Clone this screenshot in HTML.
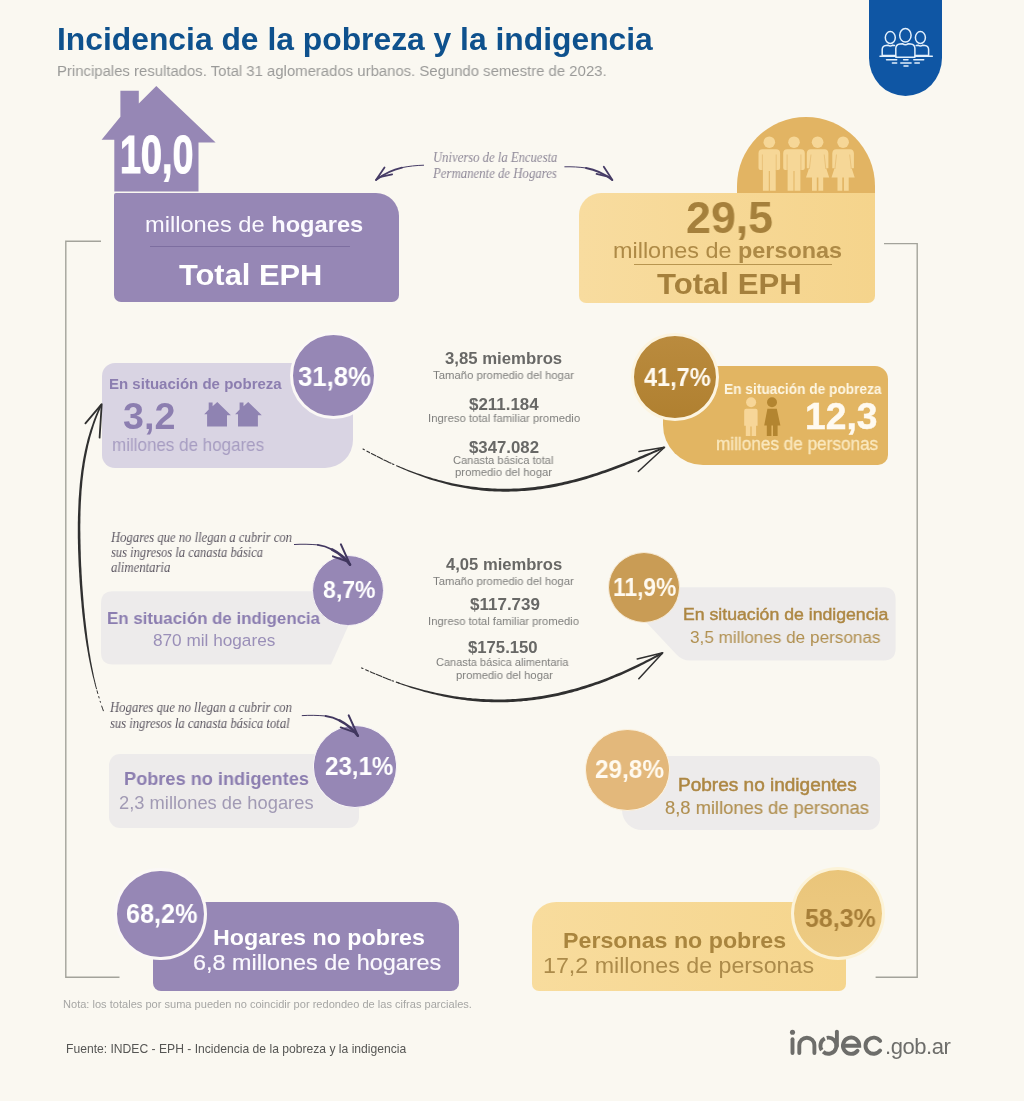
<!DOCTYPE html>
<html><head><meta charset="utf-8"><title>Incidencia de la pobreza y la indigencia</title>
<style>
html,body{margin:0;padding:0;}
body{width:1024px;height:1101px;position:relative;overflow:hidden;background:#faf8f1;font-family:"Liberation Sans",sans-serif;}
.a{position:absolute;box-sizing:content-box;}
.t{position:absolute;white-space:nowrap;line-height:1;will-change:transform;}
svg{position:absolute;left:0;top:0;overflow:visible;}
</style></head><body>

<svg width="1024" height="1101" viewBox="0 0 1024 1101">
<path d="M101,241.2 H65.8 V977.2 H119.5" fill="none" stroke="#a3a39b" stroke-width="1.4"/>
<path d="M884,243.6 H917.2 V977.2 H875.6" fill="none" stroke="#a3a39b" stroke-width="1.4"/>
</svg>
<div class="t" style="left:56.90px;top:24.92px;font-size:30.8px;color:#0e518d;font-family:'Liberation Sans',sans-serif;font-weight:700;transform:scaleX(1.0330);transform-origin:0 0;">Incidencia de la pobreza y la indigencia</div>
<div class="t" style="left:57.20px;top:62.81px;font-size:15.1px;color:#9a9a98;font-family:'Liberation Sans',sans-serif;transform:scaleX(0.9869);transform-origin:0 0;">Principales resultados. Total 31 aglomerados urbanos. Segundo semestre de 2023.</div>
<div class="a" style="left:869px;top:0;width:73.3px;height:96px;background:#0f56a4;border-radius:0 0 36.6px 36.6px / 0 0 38px 38px;"></div>
<svg width="1024" height="1101" viewBox="0 0 1024 1101"><g fill="none" stroke="#e3f0fc" stroke-width="1.5" stroke-linecap="round" stroke-linejoin="round">
<ellipse cx="890.3" cy="37.6" rx="5" ry="6"/>
<ellipse cx="920.4" cy="37.6" rx="5" ry="6"/>
<ellipse cx="905.4" cy="35.3" rx="5.7" ry="6.8"/>
<path d="M895.8,55.4 H882.2 V49.5 Q882.2,45.8 886,45.4 L888,45.2 Q890.3,47 892.6,45.2 L894.5,45.4"/>
<path d="M914.9,55.4 H928.6 V49.5 Q928.6,45.8 924.8,45.4 L922.8,45.2 Q920.4,47 918.1,45.2 L916.2,45.4"/>
<path d="M895.8,57.2 V48.5 Q895.8,44.3 900,43.9 L902.4,43.7 Q905.4,46 908.4,43.7 L910.8,43.9 Q914.9,44.3 914.9,48.5 V57.2 Z" fill="#0f56a4"/>
<path d="M880,56.3 H895.8 M914.9,56.3 H932.3"/>
<path d="M886.5,59.7 H896.7 M903.6,59.7 H908 M913.8,59.7 H923.7 M892.4,62.9 H896.7 M900.8,62.9 H911.1 M914.9,62.9 H919.3 M904,65.9 H908"/>
</g></svg>
<svg width="1024" height="1101" viewBox="0 0 1024 1101">
<polygon points="156.3,86.1 215.6,142.5 198.5,142.5 198.5,191.6 114.3,191.6 114.3,139.7 101.6,139.7 120.4,116.8 120.4,90.8 138.8,90.8 138.8,103.5" fill="#9687b5"/>
</svg>
<div class="a" style="left:114.00px;top:193.20px;width:284.80px;height:108.80px;background:#9687b5;border-radius:2px 23px 7px 7px;"></div>
<div class="t" style="left:119.60px;top:128.89px;font-size:52.8px;color:#fff;font-family:'Liberation Sans',sans-serif;font-weight:700;-webkit-text-stroke:1.2px #fff;transform:scaleX(0.7147);transform-origin:0 0;">10,0</div>
<div class="t" style="left:145.30px;top:213.65px;font-size:21.2px;color:#fbf9ff;font-family:'Liberation Sans',sans-serif;transform:scaleX(1.1161);transform-origin:0 0;">millones de <b>hogares</b></div>
<div class="a" style="left:150px;top:245.5px;width:200px;height:1.3px;background:#7d6ea0;"></div>
<div class="t" style="left:178.70px;top:259.72px;font-size:29.5px;color:#fff;font-family:'Liberation Sans',sans-serif;font-weight:700;transform:scaleX(1.0447);transform-origin:0 0;">Total EPH</div>
<div class="t" style="left:432.50px;top:150.91px;font-size:13.6px;color:#8d8797;font-family:'Liberation Serif',serif;font-style:italic;transform:scaleX(0.9329);transform-origin:0 0;">Universo de la Encuesta</div>
<div class="t" style="left:432.93px;top:166.51px;font-size:13.6px;color:#8d8797;font-family:'Liberation Serif',serif;font-style:italic;transform:scaleX(0.9412);transform-origin:0 0;">Permanente de Hogares</div>
<svg width="1024" height="1101" viewBox="0 0 1024 1101"><g fill="none" stroke="#463c66" stroke-linecap="round" stroke-linejoin="round">
<path d="M423.6,165.2 C416,165.4 409,166.2 402,167.6" stroke-width="1.0"/>
<path d="M402,167.6 C393,169.6 385,173 376.3,179.8" stroke-width="1.9"/>
<path d="M384.5,167.4 L376,180 " stroke-width="1.8"/>
<path d="M379.5,177.2 L392.2,174.3" stroke-width="1.7"/>
<path d="M564.8,166.8 C572,166.6 579,167 586,168" stroke-width="1.0"/>
<path d="M586,168 C596,169.8 604,173.5 612.2,179.9" stroke-width="1.9"/>
<path d="M603.8,166.8 L612.4,180.1" stroke-width="1.8"/>
<path d="M608.9,176.8 L596.5,173.9" stroke-width="1.7"/>
</g></svg>
<div class="a" style="left:736.6px;top:117px;width:138.6px;height:76px;background:#e2b463;border-radius:69.3px 69.3px 0 0;"></div>
<div class="a" style="left:579.00px;top:192.80px;width:296.40px;height:110.30px;background:linear-gradient(90deg,#f8dc9f 0%,#f5d48c 100%);border-radius:22px 0 7px 7px;"></div>
<svg width="1024" height="1101" viewBox="0 0 1024 1101">
<circle cx="769.3" cy="142.2" r="5.8" fill="#f6d797"/><path d="M758.5,153.3 Q758.5,149.3 762.5,149.3 H776.0999999999999 Q780.0999999999999,149.3 780.0999999999999,153.3 V168 Q780.0999999999999,170 778.0999999999999,170 H775.6999999999999 V190.8 H769.8 V171 H768.8 V190.8 H762.9 V170 H760.5 Q758.5,170 758.5,168 Z" fill="#f6d797"/>
<circle cx="794" cy="142.2" r="5.8" fill="#f6d797"/><path d="M783.2,153.3 Q783.2,149.3 787.2,149.3 H800.8 Q804.8,149.3 804.8,153.3 V168 Q804.8,170 802.8,170 H800.4 V190.8 H794.5 V171 H793.5 V190.8 H787.6 V170 H785.2 Q783.2,170 783.2,168 Z" fill="#f6d797"/>
<circle cx="817.6" cy="142.2" r="5.8" fill="#f6d797"/><path d="M810.6,149.3 H824.6 Q828.1,149.3 828.4,153.3 L828.4,168.3 L826.2,168.3 L829.2,177.4 H823.2 V190.8 H818.4 V177.4 H816.8000000000001 V190.8 H812.0 V177.4 H806.0 L809.0,168.3 L806.8000000000001,168.3 L806.8000000000001,153.3 Q807.1,149.3 810.6,149.3 Z" fill="#f6d797"/>
<circle cx="843.1" cy="142.2" r="5.8" fill="#f6d797"/><path d="M836.1,149.3 H850.1 Q853.6,149.3 853.9,153.3 L853.9,168.3 L851.7,168.3 L854.7,177.4 H848.7 V190.8 H843.9 V177.4 H842.3000000000001 V190.8 H837.5 V177.4 H831.5 L834.5,168.3 L832.3000000000001,168.3 L832.3000000000001,153.3 Q832.6,149.3 836.1,149.3 Z" fill="#f6d797"/>
<path d="M762.4,154.5 V170.5 M776.1999999999999,154.5 V170.5" stroke="#e6bd72" stroke-width="0.8" fill="none"/>
<path d="M787.1,154.5 V170.5 M800.9,154.5 V170.5" stroke="#e6bd72" stroke-width="0.8" fill="none"/>
<path d="M811.0,154.5 L809.4,169 M824.2,154.5 L825.8000000000001,169" stroke="#e6bd72" stroke-width="0.8" fill="none"/>
<path d="M836.5,154.5 L834.9,169 M849.7,154.5 L851.3000000000001,169" stroke="#e6bd72" stroke-width="0.8" fill="none"/>
</svg>
<div class="t" style="left:685.50px;top:194.73px;font-size:45.2px;color:#a5803c;font-family:'Liberation Sans',sans-serif;font-weight:700;transform:scaleX(0.9896);transform-origin:0 0;">29,5</div>
<div class="t" style="left:613.10px;top:239.86px;font-size:22.6px;color:#ae8a46;font-family:'Liberation Sans',sans-serif;transform:scaleX(1.0364);transform-origin:0 0;">millones de <b>personas</b></div>
<div class="a" style="left:633.7px;top:264.2px;width:198.5px;height:1.2px;background:#b8954f;"></div>
<div class="t" style="left:657.00px;top:269.03px;font-size:30.2px;color:#a5803c;font-family:'Liberation Sans',sans-serif;font-weight:700;transform:scaleX(1.0304);transform-origin:0 0;">Total EPH</div>
<div class="a" style="left:102.10px;top:362.60px;width:250.70px;height:105.80px;background:#d9d4e3;border-radius:13px 13px 28px 13px;"></div>
<div class="a" style="left:289.60px;top:331.50px;width:81.40px;height:81.40px;background:#9687b5;border-radius:50%;border:3.2px solid #fbf8f6;"></div>
<div class="t" style="left:297.80px;top:364.34px;font-size:27px;color:#fff;font-family:'Liberation Sans',sans-serif;font-weight:700;transform:scaleX(0.9537);transform-origin:0 0;">31,8%</div>
<div class="t" style="left:108.75px;top:376.87px;font-size:14.8px;color:#8c7eb0;font-family:'Liberation Sans',sans-serif;font-weight:700;transform:scaleX(1.0147);transform-origin:0 0;">En situación de pobreza</div>
<div class="t" style="left:123.00px;top:397.55px;font-size:37.5px;color:#8c7eb0;font-family:'Liberation Sans',sans-serif;font-weight:700;transform:scaleX(1.0053);transform-origin:0 0;">3,2</div>
<svg width="1024" height="1101" viewBox="0 0 1024 1101"><polygon points="217.3,401.9 230.9,415.2 227.0,415.2 227.0,426.6 207.10000000000002,426.6 207.10000000000002,414.3 204.20000000000002,414.3 208.70000000000002,409.5 208.70000000000002,402.4 212.60000000000002,402.4 212.60000000000002,406.2" fill="#8f83b2"/><polygon points="248.2,401.9 261.8,415.2 257.9,415.2 257.9,426.6 238.0,426.6 238.0,414.3 235.1,414.3 239.6,409.5 239.6,402.4 243.5,402.4 243.5,406.2" fill="#8f83b2"/></svg>
<div class="t" style="left:112.20px;top:435.79px;font-size:18.2px;color:#a69cc1;font-family:'Liberation Sans',sans-serif;transform:scaleX(0.9344);transform-origin:0 0;">millones de hogares</div>
<div class="t" style="left:445.30px;top:351.25px;font-size:16px;color:#686866;font-family:'Liberation Sans',sans-serif;font-weight:700;transform:scaleX(1.0457);transform-origin:0 0;">3,85 miembros</div>
<div class="t" style="left:432.80px;top:369.75px;font-size:11.4px;color:#7e7e7c;font-family:'Liberation Sans',sans-serif;transform:scaleX(0.9945);transform-origin:0 0;">Tamaño promedio del hogar</div>
<div class="t" style="left:468.75px;top:395.88px;font-size:16.2px;color:#686866;font-family:'Liberation Sans',sans-serif;font-weight:700;transform:scaleX(1.0448);transform-origin:0 0;">$211.184</div>
<div class="t" style="left:427.50px;top:413.45px;font-size:11.4px;color:#7e7e7c;font-family:'Liberation Sans',sans-serif;transform:scaleX(0.9926);transform-origin:0 0;">Ingreso total familiar promedio</div>
<div class="t" style="left:468.75px;top:438.88px;font-size:16.2px;color:#686866;font-family:'Liberation Sans',sans-serif;font-weight:700;transform:scaleX(1.0362);transform-origin:0 0;">$347.082</div>
<div class="t" style="left:452.50px;top:454.95px;font-size:11.4px;color:#7e7e7c;font-family:'Liberation Sans',sans-serif;transform:scaleX(0.9730);transform-origin:0 0;">Canasta básica total</div>
<div class="t" style="left:455.30px;top:466.60px;font-size:11.4px;color:#7e7e7c;font-family:'Liberation Sans',sans-serif;transform:scaleX(0.9897);transform-origin:0 0;">promedio del hogar</div>
<div class="t" style="left:445.60px;top:557.15px;font-size:16px;color:#686866;font-family:'Liberation Sans',sans-serif;font-weight:700;transform:scaleX(1.0368);transform-origin:0 0;">4,05 miembros</div>
<div class="t" style="left:433.00px;top:575.95px;font-size:11.4px;color:#7e7e7c;font-family:'Liberation Sans',sans-serif;transform:scaleX(0.9930);transform-origin:0 0;">Tamaño promedio del hogar</div>
<div class="t" style="left:470.00px;top:596.28px;font-size:16.2px;color:#686866;font-family:'Liberation Sans',sans-serif;font-weight:700;transform:scaleX(1.0501);transform-origin:0 0;">$117.739</div>
<div class="t" style="left:428.00px;top:616.35px;font-size:11.4px;color:#7e7e7c;font-family:'Liberation Sans',sans-serif;transform:scaleX(0.9848);transform-origin:0 0;">Ingreso total familiar promedio</div>
<div class="t" style="left:467.80px;top:639.48px;font-size:16.2px;color:#686866;font-family:'Liberation Sans',sans-serif;font-weight:700;transform:scaleX(1.0318);transform-origin:0 0;">$175.150</div>
<div class="t" style="left:436.30px;top:657.05px;font-size:11.4px;color:#7e7e7c;font-family:'Liberation Sans',sans-serif;transform:scaleX(0.9648);transform-origin:0 0;">Canasta básica alimentaria</div>
<div class="t" style="left:455.50px;top:669.65px;font-size:11.4px;color:#7e7e7c;font-family:'Liberation Sans',sans-serif;transform:scaleX(0.9877);transform-origin:0 0;">promedio del hogar</div>
<div class="a" style="left:663.00px;top:365.70px;width:225.00px;height:99.00px;background:#e2b562;border-radius:13px 13px 10px 40px;"></div>
<div class="a" style="left:631.00px;top:333.20px;width:82.40px;height:82.20px;background:linear-gradient(180deg,#ba8b3e 0%,#b08030 100%);border-radius:50%;border:3.3px solid #fcf4e0;"></div>
<div class="t" style="left:644.00px;top:365.49px;font-size:25.4px;color:#fffaf0;font-family:'Liberation Sans',sans-serif;font-weight:700;transform:scaleX(0.9249);transform-origin:0 0;">41,7%</div>
<div class="t" style="left:723.90px;top:382.28px;font-size:14.2px;color:#fdf6e3;font-family:'Liberation Sans',sans-serif;font-weight:700;transform:scaleX(0.9655);transform-origin:0 0;">En situación de pobreza</div>
<svg width="1024" height="1101" viewBox="0 0 1024 1101">
<circle cx="751.1" cy="402.3" r="5" fill="#f7d698"/>
<path d="M744.2,410.7 Q744.2,408.7 746.2,408.7 H755.6 Q757.6,408.7 757.6,410.7 V425.7 H756.1 V436 H751.6 V426.5 H750.4 V436 H745.8 V425.7 H744.2 Z" fill="#f7d698"/>
<circle cx="772" cy="402.3" r="5" fill="#b38530"/>
<path d="M767.4,408.7 H776.8 L780.4,425.4 H777.6 V436 H773 V425.4 H771.4 V436 H766.8 V425.4 H764.2 Z" fill="#b38530"/>
</svg>
<div class="t" style="left:804.60px;top:398.47px;font-size:37px;color:#fffaf0;font-family:'Liberation Sans',sans-serif;font-weight:700;-webkit-text-stroke:0.5px #fffaf0;transform:scaleX(1.0060);transform-origin:0 0;">12,3</div>
<div class="t" style="left:716.25px;top:435.78px;font-size:17.5px;color:#fae8be;font-family:'Liberation Sans',sans-serif;-webkit-text-stroke:0.3px #fae8be;transform:scaleX(0.9805);transform-origin:0 0;">millones de personas</div>
<div class="t" style="left:111.44px;top:530.81px;font-size:13.6px;color:#5c5762;font-family:'Liberation Serif',serif;font-style:italic;transform:scaleX(0.9313);transform-origin:0 0;">Hogares que no llegan a cubrir con</div>
<div class="t" style="left:111.25px;top:545.81px;font-size:13.6px;color:#5c5762;font-family:'Liberation Serif',serif;font-style:italic;transform:scaleX(0.9223);transform-origin:0 0;">sus ingresos la canasta básica</div>
<div class="t" style="left:111.25px;top:561.21px;font-size:13.6px;color:#5c5762;font-family:'Liberation Serif',serif;font-style:italic;transform:scaleX(0.9355);transform-origin:0 0;">alimentaria</div>
<svg width="1024" height="1101" viewBox="0 0 1024 1101"><path d="M113,591.3 H318 L350,622 L331,664.4 H113 Q101,664.4 101,652.4 V603.3 Q101,591.3 113,591.3 Z" fill="#edebeb"/></svg>
<div class="a" style="left:312.00px;top:554.70px;width:69.80px;height:69.80px;background:#9687b5;border-radius:50%;border:1.2px solid #f4f0f4;"></div>
<div class="t" style="left:323.20px;top:578.46px;font-size:24.5px;color:#fff;font-family:'Liberation Sans',sans-serif;font-weight:700;transform:scaleX(0.9398);transform-origin:0 0;">8,7%</div>
<div class="t" style="left:107.20px;top:610.15px;font-size:17.3px;color:#8b7db0;font-family:'Liberation Sans',sans-serif;font-weight:700;transform:scaleX(0.9774);transform-origin:0 0;">En situación de indigencia</div>
<div class="t" style="left:152.50px;top:631.54px;font-size:17.2px;color:#9a8fb8;font-family:'Liberation Sans',sans-serif;transform:scaleX(0.9961);transform-origin:0 0;">870 mil hogares</div>
<svg width="1024" height="1101" viewBox="0 0 1024 1101"><path d="M660,587.2 H883.6 Q895.6,587.2 895.6,599.2 V648.6 Q895.6,660.6 883.6,660.6 H690 Q682,660.6 676,654 L646,622 Z" fill="#edebeb"/></svg>
<div class="a" style="left:607.50px;top:551.50px;width:70.40px;height:69.40px;background:#c99c55;border-radius:50%;border:1px solid #f6ead6;"></div>
<div class="t" style="left:612.60px;top:575.23px;font-size:25px;color:#fffaf0;font-family:'Liberation Sans',sans-serif;font-weight:700;transform:scaleX(0.9108);transform-origin:0 0;">11,9%</div>
<div class="t" style="left:682.60px;top:607.49px;font-size:16.9px;color:#ad8743;font-family:'Liberation Sans',sans-serif;-webkit-text-stroke:0.45px #ad8743;transform:scaleX(1.0460);transform-origin:0 0;">En situación de indigencia</div>
<div class="t" style="left:689.80px;top:628.95px;font-size:17.3px;color:#b08f4f;font-family:'Liberation Sans',sans-serif;transform:scaleX(0.9913);transform-origin:0 0;">3,5 millones de personas</div>
<div class="t" style="left:110.49px;top:700.91px;font-size:13.6px;color:#5c5762;font-family:'Liberation Serif',serif;font-style:italic;transform:scaleX(0.9362);transform-origin:0 0;">Hogares que no llegan a cubrir con</div>
<div class="t" style="left:110.30px;top:716.51px;font-size:13.6px;color:#5c5762;font-family:'Liberation Serif',serif;font-style:italic;transform:scaleX(0.9295);transform-origin:0 0;">sus ingresos la canasta básica total</div>
<div class="a" style="left:108.75px;top:754.00px;width:250.00px;height:73.50px;background:#edebeb;border-radius:11px;"></div>
<div class="a" style="left:312.60px;top:725.40px;width:82.80px;height:80.40px;background:#9687b5;border-radius:50%;border:1.6px solid #f8f5f6;"></div>
<div class="t" style="left:324.50px;top:753.05px;font-size:26.4px;color:#fff;font-family:'Liberation Sans',sans-serif;font-weight:700;transform:scaleX(0.9139);transform-origin:0 0;">23,1%</div>
<div class="t" style="left:123.75px;top:769.55px;font-size:18.6px;color:#8c7eb0;font-family:'Liberation Sans',sans-serif;font-weight:700;transform:scaleX(0.9780);transform-origin:0 0;">Pobres no indigentes</div>
<div class="t" style="left:118.75px;top:794.90px;font-size:17.6px;color:#a19ab4;font-family:'Liberation Sans',sans-serif;transform:scaleX(1.0414);transform-origin:0 0;">2,3 millones de hogares</div>
<div class="a" style="left:621.60px;top:756.00px;width:258.40px;height:73.50px;background:#edebeb;border-radius:12px 12px 12px 20px;"></div>
<div class="a" style="left:585.20px;top:729.20px;width:82.40px;height:79.60px;background:#e3b87b;border-radius:50%;border:1.6px solid #fbf2e0;"></div>
<div class="t" style="left:595.20px;top:756.76px;font-size:25.8px;color:#fffaf0;font-family:'Liberation Sans',sans-serif;font-weight:700;transform:scaleX(0.9434);transform-origin:0 0;">29,8%</div>
<div class="t" style="left:678.00px;top:776.26px;font-size:18px;color:#ad8743;font-family:'Liberation Sans',sans-serif;-webkit-text-stroke:0.5px #ad8743;transform:scaleX(1.0567);transform-origin:0 0;">Pobres no indigentes</div>
<div class="t" style="left:665.30px;top:799.02px;font-size:18.4px;color:#b08f50;font-family:'Liberation Sans',sans-serif;-webkit-text-stroke:0.15px #b08f50;transform:scaleX(0.9975);transform-origin:0 0;">8,8 millones de personas</div>
<div class="a" style="left:152.80px;top:901.60px;width:306.60px;height:89.40px;background:#9687b5;border-radius:4px 23px 8px 8px;"></div>
<div class="a" style="left:114.30px;top:867.60px;width:86.80px;height:86.80px;background:#9687b5;border-radius:50%;border:3px solid #fbf8f6;"></div>
<div class="t" style="left:125.80px;top:900.91px;font-size:26.8px;color:#fff;font-family:'Liberation Sans',sans-serif;font-weight:700;transform:scaleX(0.9397);transform-origin:0 0;">68,2%</div>
<div class="t" style="left:213.00px;top:926.87px;font-size:22px;color:#fff;font-family:'Liberation Sans',sans-serif;font-weight:700;transform:scaleX(1.0567);transform-origin:0 0;">Hogares no pobres</div>
<div class="t" style="left:193.10px;top:952.03px;font-size:22.4px;color:#fbf9fe;font-family:'Liberation Sans',sans-serif;-webkit-text-stroke:0.2px #fbf9fe;transform:scaleX(1.0442);transform-origin:0 0;">6,8 millones de hogares</div>
<div class="a" style="left:531.60px;top:901.60px;width:314.00px;height:89.40px;background:linear-gradient(90deg,#f8dc9d 0%,#f5d58d 100%);border-radius:24px 0 7px 7px;"></div>
<div class="a" style="left:790.80px;top:867.40px;width:87.80px;height:86.80px;background:linear-gradient(180deg,#eac57a 0%,#edcb83 100%);border-radius:50%;border:3.3px solid #fcf3d8;"></div>
<div class="t" style="left:804.80px;top:905.32px;font-size:26.2px;color:#a67e38;font-family:'Liberation Sans',sans-serif;font-weight:700;transform:scaleX(0.9518);transform-origin:0 0;">58,3%</div>
<div class="t" style="left:562.50px;top:930.37px;font-size:22px;color:#a9853e;font-family:'Liberation Sans',sans-serif;font-weight:700;transform:scaleX(1.0547);transform-origin:0 0;">Personas no pobres</div>
<div class="t" style="left:542.60px;top:955.20px;font-size:22.2px;color:#ac8b4a;font-family:'Liberation Sans',sans-serif;transform:scaleX(1.0464);transform-origin:0 0;">17,2 millones de personas</div>
<div class="t" style="left:63.40px;top:998.89px;font-size:11px;color:#a6a6a4;font-family:'Liberation Sans',sans-serif;transform:scaleX(1.0056);transform-origin:0 0;">Nota: los totales por suma pueden no coincidir por redondeo de las cifras parciales.</div>
<div class="t" style="left:66.30px;top:1042.75px;font-size:12.1px;color:#565654;font-family:'Liberation Sans',sans-serif;transform:scaleX(1.0023);transform-origin:0 0;">Fuente: INDEC - EPH - Incidencia de la pobreza y la indigencia</div>
<svg width="1024" height="1101" viewBox="0 0 1024 1101">
<path d="M397.8,466.8 L400.5,468.0 L403.2,469.2 L405.8,470.3 L408.5,471.4 L411.2,472.5 L413.9,473.6 L416.6,474.6 L419.2,475.6 L421.9,476.6 L424.6,477.6 L427.3,478.5 L430.0,479.4 L432.7,480.2 L435.4,481.1 L438.1,481.8 L440.8,482.6 L443.4,483.3 L446.1,484.0 L448.8,484.7 L451.5,485.4 L454.2,486.0 L456.9,486.6 L459.6,487.1 L462.3,487.6 L465.0,488.1 L467.7,488.6 L470.4,489.0 L473.1,489.4 L475.8,489.8 L478.5,490.1 L481.2,490.4 L483.9,490.7 L486.6,490.9 L489.3,491.2 L492.0,491.3 L494.7,491.5 L497.4,491.6 L500.1,491.6 L502.9,491.7 L505.6,491.7 L508.3,491.7 L511.0,491.6 L513.7,491.5 L516.4,491.4 L519.1,491.3 L521.8,491.1 L524.5,490.9 L527.2,490.7 L529.9,490.5 L532.6,490.2 L535.3,489.9 L538.0,489.5 L540.7,489.2 L543.4,488.8 L546.1,488.3 L548.8,487.9 L551.5,487.4 L554.2,486.9 L556.9,486.4 L559.6,485.8 L562.3,485.2 L565.0,484.6 L567.7,484.0 L570.4,483.3 L573.1,482.6 L575.8,481.9 L578.5,481.2 L581.2,480.4 L583.9,479.7 L586.6,478.9 L589.3,478.0 L592.0,477.2 L594.7,476.3 L597.4,475.5 L600.1,474.6 L602.8,473.6 L605.5,472.7 L608.2,471.7 L610.9,470.8 L613.6,469.8 L616.3,468.8 L618.9,467.7 L621.6,466.7 L624.3,465.7 L627.0,464.6 L629.7,463.5 L632.4,462.4 L635.1,461.3 L637.8,460.2 L640.5,459.0 L643.1,457.9 L645.8,456.7 L648.5,455.5 L651.2,454.3 L653.9,453.1 L656.5,452.0 L659.2,450.8 L661.9,449.5 L664.6,448.3 L663.8,446.6 L661.1,447.8 L658.4,448.9 L655.7,450.1 L653.0,451.2 L650.3,452.4 L647.6,453.5 L644.9,454.6 L642.2,455.7 L639.5,456.8 L636.9,457.9 L634.2,459.0 L631.5,460.1 L628.8,461.2 L626.1,462.2 L623.4,463.3 L620.7,464.3 L618.0,465.3 L615.3,466.3 L612.7,467.3 L610.0,468.3 L607.3,469.3 L604.6,470.2 L601.9,471.1 L599.2,472.0 L596.6,472.9 L593.9,473.8 L591.2,474.6 L588.5,475.4 L585.8,476.2 L583.1,477.0 L580.5,477.8 L577.8,478.5 L575.1,479.2 L572.4,479.9 L569.7,480.6 L567.1,481.2 L564.4,481.8 L561.7,482.4 L559.0,483.0 L556.4,483.5 L553.7,484.1 L551.0,484.6 L548.3,485.0 L545.7,485.5 L543.0,485.9 L540.3,486.3 L537.6,486.6 L535.0,487.0 L532.3,487.3 L529.6,487.6 L526.9,487.8 L524.3,488.0 L521.6,488.2 L518.9,488.4 L516.2,488.5 L513.6,488.6 L510.9,488.7 L508.2,488.8 L505.6,488.8 L502.9,488.8 L500.2,488.7 L497.5,488.7 L494.9,488.6 L492.2,488.4 L489.5,488.3 L486.8,488.1 L484.2,487.9 L481.5,487.7 L478.8,487.4 L476.1,487.1 L473.5,486.8 L470.8,486.5 L468.1,486.1 L465.4,485.7 L462.7,485.2 L460.1,484.8 L457.4,484.3 L454.7,483.7 L452.0,483.2 L449.3,482.6 L446.7,481.9 L444.0,481.3 L441.3,480.6 L438.6,479.9 L435.9,479.1 L433.2,478.4 L430.6,477.6 L427.9,476.7 L425.2,475.9 L422.5,475.0 L419.8,474.1 L417.1,473.2 L414.4,472.2 L411.7,471.2 L409.0,470.2 L406.3,469.2 L403.6,468.1 L400.9,467.0 L398.2,465.9 Z" fill="#303030"/>
<path d="M363.0,449.1 L366.3,450.8 L369.5,452.6 L372.8,454.3 L376.1,456.0 L379.4,457.6 L382.6,459.3 L385.9,460.8 L389.2,462.4 L392.5,463.9 L395.7,465.4 L399.0,466.8" fill="none" stroke="#303030" stroke-width="1.1" stroke-dasharray="1.5 3 3 2 5 1.5 6 1.5 8 1.5" stroke-linecap="round"/>
<path d="M639,451.6 L664.6,447.2 L638.3,471.5" fill="none" stroke="#303030" stroke-width="1.5" stroke-linecap="round" stroke-linejoin="round"/>
<path d="M397.8,683.3 L400.5,684.2 L403.2,685.2 L405.8,686.1 L408.5,687.0 L411.1,687.9 L413.8,688.7 L416.5,689.5 L419.1,690.3 L421.8,691.1 L424.5,691.9 L427.1,692.6 L429.8,693.3 L432.5,694.0 L435.2,694.6 L437.8,695.2 L440.5,695.8 L443.2,696.4 L445.9,697.0 L448.5,697.5 L451.2,698.0 L453.9,698.4 L456.6,698.9 L459.2,699.3 L461.9,699.7 L464.6,700.0 L467.3,700.4 L469.9,700.7 L472.6,701.0 L475.3,701.2 L478.0,701.5 L480.7,701.7 L483.4,701.9 L486.0,702.0 L488.7,702.1 L491.4,702.2 L494.1,702.3 L496.8,702.3 L499.5,702.3 L502.1,702.3 L504.8,702.3 L507.5,702.2 L510.2,702.1 L512.9,701.9 L515.6,701.8 L518.2,701.6 L520.9,701.4 L523.6,701.1 L526.3,700.9 L529.0,700.6 L531.7,700.3 L534.3,699.9 L537.0,699.6 L539.7,699.2 L542.4,698.8 L545.1,698.3 L547.8,697.8 L550.4,697.3 L553.1,696.8 L555.8,696.3 L558.5,695.7 L561.2,695.1 L563.9,694.4 L566.5,693.8 L569.2,693.1 L571.9,692.4 L574.6,691.6 L577.3,690.9 L579.9,690.1 L582.6,689.3 L585.3,688.4 L588.0,687.6 L590.6,686.7 L593.3,685.8 L596.0,684.8 L598.7,683.9 L601.4,682.9 L604.0,681.9 L606.7,680.9 L609.4,679.8 L612.1,678.7 L614.7,677.6 L617.4,676.5 L620.1,675.4 L622.8,674.2 L625.4,673.0 L628.1,671.8 L630.8,670.6 L633.5,669.3 L636.1,668.0 L638.8,666.7 L641.5,665.3 L644.1,664.0 L646.8,662.6 L649.4,661.2 L652.1,659.8 L654.8,658.3 L657.4,656.9 L660.1,655.4 L662.8,653.9 L661.8,652.2 L659.2,653.7 L656.5,655.1 L653.8,656.5 L651.1,657.9 L648.5,659.3 L645.8,660.6 L643.1,662.0 L640.4,663.3 L637.8,664.5 L635.1,665.8 L632.4,667.1 L629.7,668.3 L627.1,669.5 L624.4,670.7 L621.7,671.9 L619.1,673.0 L616.4,674.1 L613.8,675.2 L611.1,676.3 L608.4,677.4 L605.8,678.4 L603.1,679.4 L600.4,680.4 L597.8,681.4 L595.1,682.3 L592.5,683.2 L589.8,684.1 L587.1,685.0 L584.5,685.8 L581.8,686.6 L579.1,687.4 L576.5,688.2 L573.8,688.9 L571.2,689.6 L568.5,690.3 L565.8,691.0 L563.2,691.6 L560.5,692.3 L557.9,692.9 L555.2,693.4 L552.6,694.0 L549.9,694.5 L547.2,695.0 L544.6,695.4 L541.9,695.9 L539.3,696.3 L536.6,696.7 L534.0,697.1 L531.3,697.4 L528.7,697.7 L526.0,698.0 L523.3,698.3 L520.7,698.5 L518.0,698.7 L515.4,698.9 L512.7,699.0 L510.1,699.2 L507.4,699.3 L504.8,699.4 L502.1,699.4 L499.4,699.4 L496.8,699.4 L494.1,699.4 L491.5,699.3 L488.8,699.3 L486.2,699.2 L483.5,699.1 L480.8,698.9 L478.2,698.8 L475.5,698.6 L472.9,698.4 L470.2,698.1 L467.6,697.9 L464.9,697.6 L462.2,697.3 L459.6,696.9 L456.9,696.6 L454.2,696.2 L451.6,695.7 L448.9,695.3 L446.3,694.8 L443.6,694.3 L440.9,693.8 L438.3,693.3 L435.6,692.7 L432.9,692.1 L430.3,691.5 L427.6,690.8 L424.9,690.2 L422.2,689.5 L419.6,688.8 L416.9,688.1 L414.2,687.3 L411.6,686.5 L408.9,685.7 L406.2,684.9 L403.5,684.1 L400.8,683.2 L398.2,682.3 Z" fill="#303030"/>
<path d="M361.6,667.9 L365.0,669.5 L368.4,671.0 L371.8,672.5 L375.2,673.9 L378.6,675.3 L382.0,676.7 L385.4,678.1 L388.8,679.4 L392.2,680.7 L395.6,681.9 L399.0,683.1" fill="none" stroke="#303030" stroke-width="1.1" stroke-dasharray="1.5 3 3 2 5 1.5 6 1.5 8 1.5" stroke-linecap="round"/>
<path d="M637.2,658.9 L662.8,652.8 L638.8,678.8" fill="none" stroke="#303030" stroke-width="1.5" stroke-linecap="round" stroke-linejoin="round"/>
<path d="M100.6,404.2 L99.4,406.7 L98.2,409.3 L97.1,411.9 L96.0,414.4 L95.0,417.0 L94.0,419.6 L93.1,422.1 L92.2,424.7 L91.3,427.3 L90.4,429.8 L89.6,432.4 L88.9,435.0 L88.1,437.6 L87.4,440.1 L86.8,442.7 L86.1,445.3 L85.5,447.9 L84.9,450.4 L84.4,453.0 L83.9,455.6 L83.4,458.1 L82.9,460.7 L82.5,463.3 L82.1,465.9 L81.7,468.4 L81.3,471.0 L81.0,473.6 L80.7,476.2 L80.4,478.7 L80.1,481.3 L79.8,483.9 L79.6,486.5 L79.4,489.0 L79.2,491.6 L79.0,494.2 L78.8,496.7 L78.6,499.3 L78.5,501.9 L78.4,504.4 L78.3,507.0 L78.2,509.6 L78.1,512.2 L78.0,514.7 L77.9,517.3 L77.9,519.9 L77.8,522.4 L77.8,525.0 L77.8,527.6 L77.8,530.1 L77.8,532.7 L77.8,535.3 L77.8,537.9 L77.9,540.4 L77.9,543.0 L78.0,545.6 L78.0,548.1 L78.1,550.7 L78.2,553.3 L78.3,555.8 L78.4,558.4 L78.5,561.0 L78.6,563.5 L78.7,566.1 L78.9,568.7 L79.0,571.2 L79.2,573.8 L79.3,576.4 L79.5,578.9 L79.6,581.5 L79.8,584.1 L80.0,586.6 L80.2,589.2 L80.4,591.8 L80.6,594.3 L80.8,596.9 L81.0,599.5 L81.3,602.0 L81.5,604.6 L81.7,607.2 L82.0,609.7 L82.2,612.3 L82.5,614.9 L82.8,617.5 L83.1,620.0 L83.4,622.6 L83.7,625.2 L84.0,627.7 L84.3,630.3 L84.7,632.9 L85.1,635.4 L85.4,638.0 L85.8,640.5 L86.2,643.1 L86.6,645.7 L87.1,648.2 L87.5,650.8 L88.0,653.4 L88.4,655.9 L88.9,658.5 L89.4,661.1 L89.9,663.6 L90.5,666.2 L91.0,668.8 L91.6,671.3 L92.2,673.9 L92.8,676.4 L93.5,679.0 L94.1,681.6 L94.8,684.1 L95.7,683.9 L95.1,681.3 L94.5,678.7 L93.9,676.2 L93.4,673.6 L92.9,671.0 L92.4,668.5 L91.9,665.9 L91.4,663.3 L90.9,660.8 L90.5,658.2 L90.1,655.6 L89.6,653.1 L89.2,650.5 L88.9,648.0 L88.5,645.4 L88.1,642.8 L87.8,640.3 L87.4,637.7 L87.1,635.1 L86.8,632.6 L86.5,630.0 L86.2,627.5 L85.9,624.9 L85.6,622.3 L85.3,619.8 L85.0,617.2 L84.8,614.6 L84.5,612.1 L84.3,609.5 L84.0,607.0 L83.8,604.4 L83.6,601.8 L83.4,599.3 L83.2,596.7 L83.0,594.2 L82.8,591.6 L82.6,589.0 L82.4,586.5 L82.2,583.9 L82.1,581.4 L81.9,578.8 L81.8,576.2 L81.6,573.7 L81.5,571.1 L81.4,568.5 L81.2,566.0 L81.1,563.4 L81.0,560.9 L80.9,558.3 L80.8,555.7 L80.8,553.2 L80.7,550.6 L80.6,548.1 L80.6,545.5 L80.5,542.9 L80.5,540.4 L80.4,537.8 L80.4,535.3 L80.4,532.7 L80.3,530.1 L80.3,527.6 L80.3,525.0 L80.4,522.5 L80.4,519.9 L80.4,517.4 L80.5,514.8 L80.5,512.2 L80.6,509.7 L80.7,507.1 L80.8,504.6 L80.9,502.0 L81.1,499.4 L81.2,496.9 L81.4,494.3 L81.5,491.8 L81.7,489.2 L82.0,486.7 L82.2,484.1 L82.4,481.5 L82.7,479.0 L83.0,476.4 L83.3,473.9 L83.6,471.3 L84.0,468.8 L84.4,466.2 L84.7,463.7 L85.2,461.1 L85.6,458.5 L86.1,456.0 L86.6,453.4 L87.1,450.9 L87.7,448.3 L88.2,445.8 L88.8,443.2 L89.5,440.7 L90.1,438.1 L90.8,435.6 L91.6,433.0 L92.3,430.4 L93.1,427.9 L93.9,425.3 L94.8,422.8 L95.7,420.2 L96.7,417.6 L97.7,415.1 L98.7,412.5 L99.8,410.0 L100.9,407.4 L102.1,404.8 Z" fill="#303030"/>
<path d="M95.2,684.0 L96.0,687.1 L96.9,690.2 L97.7,693.3 L98.7,696.4 L99.6,699.6 L100.6,702.7 L101.6,705.8 L102.7,708.9 L103.8,712.0" fill="none" stroke="#303030" stroke-width="1.0" stroke-dasharray="5 2 3 3 1.5 3.5 1 4" stroke-linecap="round"/>
<path d="M85.4,423.3 L101.7,404.1 L99.6,437.6" fill="none" stroke="#303030" stroke-width="1.8" stroke-linecap="round" stroke-linejoin="round"/>
<g fill="none" stroke="#41375f" stroke-linecap="round" stroke-linejoin="round" transform="translate(0,0)">
<path d="M294.4,544.5 C302,544 310,544.2 317.8,544.9" stroke-width="1.0"/>
<path d="M317.8,544.9 C323,545.6 328,547.4 332,549.5" stroke-width="1.8"/>
<path d="M332,549.5 C339,553 345,558 350,564.6" stroke-width="2.6"/>
<path d="M340.9,544.3 L350.2,564.8" stroke-width="2.0"/>
<path d="M346.2,561 L332.9,556.3" stroke-width="1.9"/>
</g>
<g fill="none" stroke="#41375f" stroke-linecap="round" stroke-linejoin="round" transform="translate(7.8,171.1)">
<path d="M294.4,544.5 C302,544 310,544.2 317.8,544.9" stroke-width="1.0"/>
<path d="M317.8,544.9 C323,545.6 328,547.4 332,549.5" stroke-width="1.8"/>
<path d="M332,549.5 C339,553 345,558 350,564.6" stroke-width="2.6"/>
<path d="M340.9,544.3 L350.2,564.8" stroke-width="2.0"/>
<path d="M346.2,561 L332.9,556.3" stroke-width="1.9"/>
</g>
</svg>
<svg width="1024" height="1101" viewBox="0 0 1024 1101"><g fill="none" stroke="#6d6d6a" stroke-width="3.9" stroke-linecap="round">
<path d="M792.5,1039.3 V1053.1"/>
<path d="M799.3,1053.1 V1045.3 A7.55,7.55 0 0 1 814.4,1045.3 V1053.1"/>
<path d="M836.9,1031.6 V1046"/>
<path d="M842.95,1045.70 H859.25 A8.15,8.15 0 1 0 857.52,1050.72"/>
<path d="M880.15,1040.94 A8.1,8.1 0 1 0 880.15,1050.46"/>
<g stroke-linecap="butt">
<path d="M826.74,1037.87 A8.0,8.0 0 1 1 823.15,1051.74"/>
<path d="M824.77,1038.57 A8.0,8.0 0 0 0 821.77,1050.17"/>
</g>
</g>
<circle cx="792.5" cy="1032.2" r="2.55" fill="#6d6d6a"/>
</svg>
<div class="t" style="left:884.6px;top:1036.47px;font-size:22px;color:#6d6d6a;letter-spacing:-0.45px;">.gob.ar</div>
</body></html>
